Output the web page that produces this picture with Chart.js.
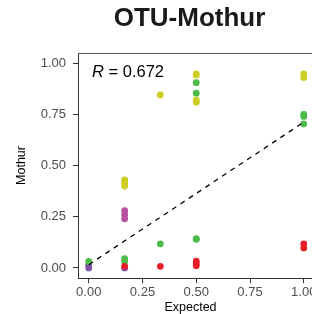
<!DOCTYPE html>
<html>
<head>
<meta charset="utf-8">
<script src="https://cdn.jsdelivr.net/npm/chart.js@4"></script>
<style>
  body { margin: 0; overflow: hidden; background: #fff; }
  #wrap { width: 312px; height: 314px; overflow: hidden; }
</style>
</head>
<body>
<div id="wrap"><canvas id="chart" width="320" height="314" style="width:320px;height:314px"></canvas></div>
<script>
// values (x = Expected, y = Mothur)
const yellowX = [0.167, 0.167, 0.167, 0.333, 0.5, 0.5, 0.5, 0.5, 1, 1];
const yellowY = [0.43, 0.415, 0.40, 0.845, 0.948, 0.943, 0.82, 0.81, 0.948, 0.93];
const greenX = [0, 0.167, 0.167, 0.333, 0.5, 0.5, 0.5, 0.5, 1, 1, 1];
const greenY = [0.032, 0.045, 0.03, 0.118, 0.905, 0.854, 0.143, 0.14, 0.75, 0.74, 0.704];
const magentaX = [0.167, 0.167, 0.167];
const magentaY = [0.28, 0.26, 0.24];
const redX = [0.167, 0.333, 0.5, 0.5, 0.5, 1, 1];
const redY = [0.008, 0.008, 0.033, 0.02, 0.011, 0.118, 0.098];
const purpleX = [0, 0, 0.167];
const purpleY = [0.015, 0, 0];
const fitX = [0, 1];
const fitY = [0.016, 0.712];
const xTicks = [0, 0.25, 0.5, 0.75, 1];
const yTicks = [0, 0.25, 0.5, 0.75, 1];
const rText = '0.672';

function pts(xs, ys) {
  return xs.map(function (x, i) { return { x: x, y: ys[i] }; });
}

function scatterSet(xs, ys, color, order) {
  return {
    type: 'scatter',
    data: pts(xs, ys),
    backgroundColor: color,
    pointRadius: 3.4,
    pointBorderWidth: 0,
    order: order
  };
}

const FONT = 'Liberation Sans, Arial, sans-serif';

// title, R label, axis titles and the top/right panel border
const extras = {
  id: 'extras',
  afterDraw(chart) {
    const ctx = chart.ctx;
    const a = chart.chartArea;
    ctx.save();
    ctx.strokeStyle = '#555';
    ctx.lineWidth = 1;
    ctx.beginPath();
    ctx.moveTo(a.left, a.top + 0.5);
    ctx.lineTo(a.right, a.top + 0.5);
    ctx.lineTo(a.right, a.bottom);
    ctx.stroke();

    ctx.fillStyle = '#1a1a1a';
    ctx.textAlign = 'center';
    ctx.textBaseline = 'alphabetic';
    ctx.font = 'bold 26px ' + FONT;
    ctx.fillText('OTU-Mothur', 189.5, 26);

    ctx.fillStyle = '#000';
    ctx.font = '12.5px ' + FONT;
    ctx.fillText('Expected', 190.5, 310.5);
    ctx.save();
    ctx.translate(24.5, 165.5);
    ctx.rotate(-Math.PI / 2);
    ctx.fillText('Mothur', 0, 0);
    ctx.restore();

    ctx.textAlign = 'left';
    ctx.font = 'italic 16.5px ' + FONT;
    ctx.fillText('R', 92, 77.3);
    const w = ctx.measureText('R').width;
    ctx.font = '16.5px ' + FONT;
    ctx.fillText(' = ' + rText, 92 + w, 77.3);
    ctx.restore();
  }
};

function axis(ticksList, fit) {
  return {
    type: 'linear',
    min: -0.05,
    max: 1.05,
    afterBuildTicks: function (s) { s.ticks = ticksList.map(function (v) { return { value: v }; }); },
    afterFit: fit,
    ticks: {
      callback: function (v) { return Number(v).toFixed(2); },
      color: '#4d4d4d',
      font: { family: FONT, size: 13 },
      maxRotation: 0,
      autoSkip: false
    },
    grid: { drawOnChartArea: false, drawTicks: true, tickLength: 5, color: '#333' },
    border: { color: '#333', width: 1 }
  };
}

const xAxis = axis(xTicks, function (s) { s.height = 35.8; s.paddingLeft = 0; s.paddingRight = 0; });
xAxis.ticks.padding = 1;
const yAxis = axis(yTicks, function (s) { s.width = 78; s.paddingTop = 0; s.paddingBottom = 0; });
yAxis.ticks.padding = 7;

new Chart(document.getElementById('chart'), {
  data: {
    datasets: [
      {
        type: 'line',
        data: pts(fitX, fitY),
        borderColor: '#000',
        borderWidth: 1.3,
        borderDash: [5, 5],
        pointRadius: 0,
        fill: false,
        order: 0
      },
      scatterSet(redX, redY, 'rgb(232,30,40)', 1),
      scatterSet(greenX, greenY, 'rgb(76,187,74)', 2),
      scatterSet(yellowX, yellowY, 'rgb(205,205,35)', 3),
      scatterSet(magentaX, magentaY, 'rgb(182,80,160)', 4),
      scatterSet(purpleX, purpleY, 'rgb(125,80,165)', 5)
    ]
  },
  options: {
    responsive: false,
    animation: false,
    devicePixelRatio: 1,
    layout: { padding: { top: 53, right: 5.5, left: 0, bottom: 0 } },
    plugins: { legend: { display: false }, tooltip: { enabled: false } },
    scales: { x: xAxis, y: yAxis }
  },
  plugins: [extras]
});
</script>
</body>
</html>
